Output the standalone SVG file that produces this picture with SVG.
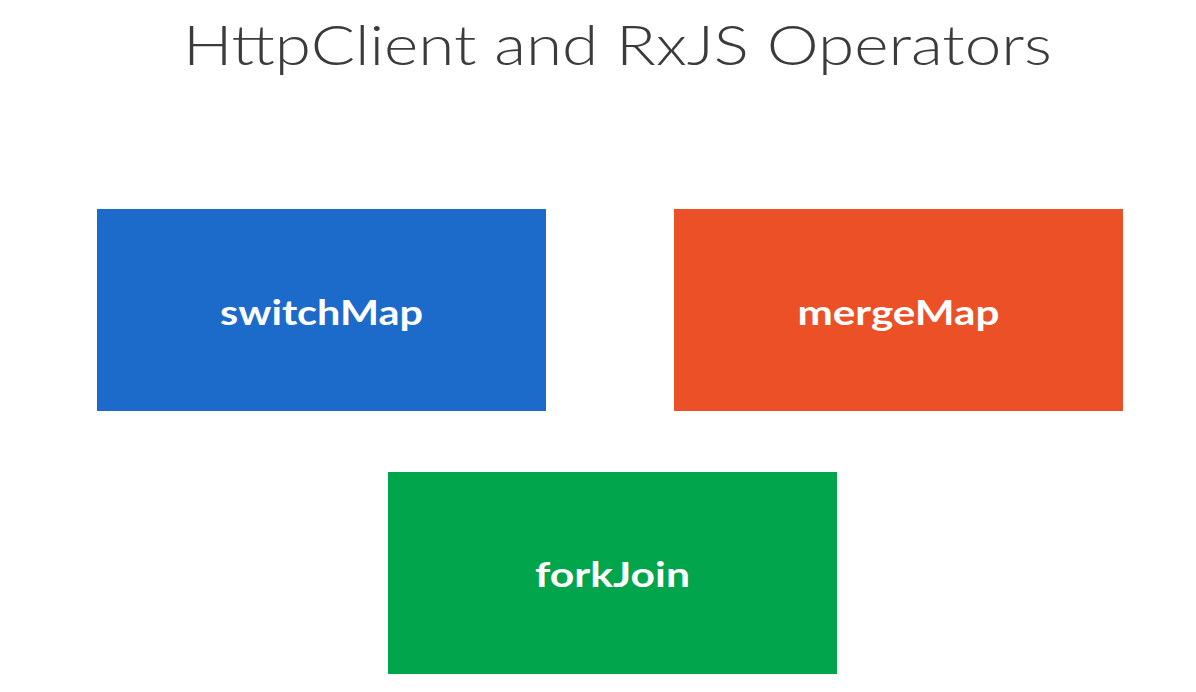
<svg xmlns="http://www.w3.org/2000/svg" width="1196" height="692" viewBox="0 0 1196 692">
<style>
.title{font-family:"Lato","Liberation Sans",sans-serif;font-weight:300;font-size:56px;fill:#3b3b3b}
.lbl{font-family:"Lato","Liberation Sans",sans-serif;font-weight:700;font-size:35px;fill:#ffffff;text-anchor:middle}
</style>
<rect width="1196" height="692" fill="#ffffff"/>
<text class="title" x="183" y="65" textLength="869" lengthAdjust="spacingAndGlyphs">HttpClient and RxJS Operators</text>
<g id="switchMap">
<rect x="97" y="209" width="449" height="202" fill="#1c6aca"/>
<text class="lbl" x="321.5" y="325" textLength="203" lengthAdjust="spacingAndGlyphs">switchMap</text>
</g>
<g id="mergeMap">
<rect x="674" y="209" width="449" height="202" fill="#eb5027"/>
<text class="lbl" x="898.5" y="325" textLength="202" lengthAdjust="spacingAndGlyphs">mergeMap</text>
</g>
<g id="forkJoin">
<rect x="388" y="472" width="449" height="202" fill="#01a54b"/>
<text class="lbl" x="612.5" y="587" textLength="155" lengthAdjust="spacingAndGlyphs">forkJoin</text>
</g>
<g id="connectors"></g>
</svg>
